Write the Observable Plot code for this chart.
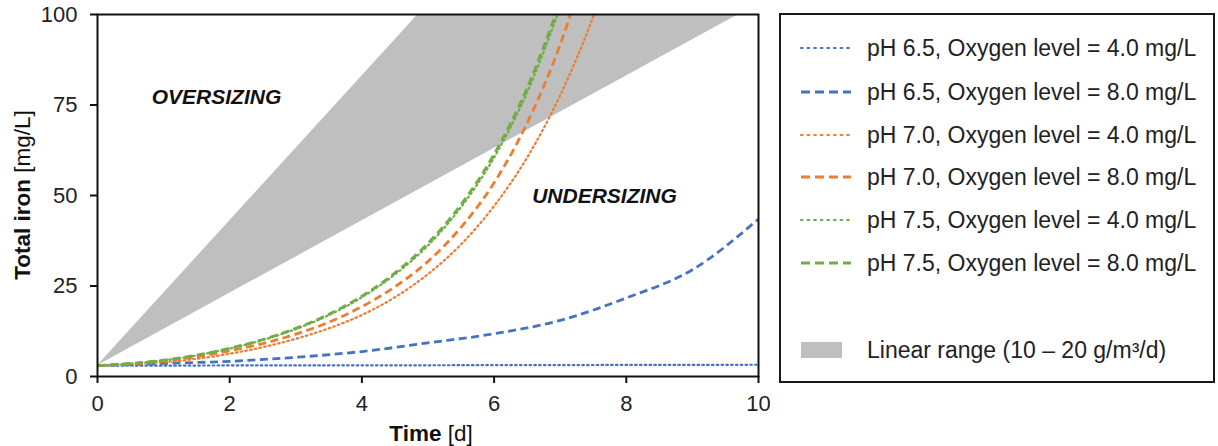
<!DOCTYPE html>
<html>
<head>
<meta charset="utf-8">
<script src="https://cdn.jsdelivr.net/npm/d3@7"></script>
<script src="https://cdn.jsdelivr.net/npm/@observablehq/plot@0.6"></script>
<style>
  html, body { margin: 0; padding: 0; background: #fff; }
  body { width: 1218px; height: 446px; position: relative; overflow: hidden; font-family: Arial, "Liberation Sans", sans-serif; }
  #chart { position: absolute; left: 0; top: 0; }
  #legend { position: absolute; left: 779px; top: 13px; width: 432px; height: 366px; border: 2px solid #1a1a1a; box-sizing: content-box; }
  .row { position: absolute; left: 0; height: 30px; display: flex; align-items: center; }
  .row svg { margin-left: 18px; }
  .row span { position: absolute; left: 86px; white-space: nowrap; font-size: 23px; color: #222; }
</style>
</head>
<body>
<div id="chart"></div>
<div id="legend"></div>
<script>
// ---- data ----
const tGrid = [0, 0.5, 1, 1.5, 2, 2.5, 3, 3.5, 4, 4.5, 5, 5.5, 6, 6.5, 7, 7.5, 8];
const pH75_O8 = [3, 3.6, 4.5, 5.9, 7.8, 10.2, 13.3, 17.2, 22.2, 28.6, 36.8, 47.5, 61.4, 79.7, 103.5, null, null];
const pH75_O4 = [3, 3.58, 4.45, 5.83, 7.7, 10.05, 13.1, 16.95, 21.9, 28.2, 36.2, 46.8, 60.5, 78.5, 102, null, null];
const pH70_O8 = [3, 3.52, 4.3, 5.46, 7.1, 9.1, 11.7, 15.0, 19.3, 24.8, 31.8, 41.2, 53.5, 70.0, 91.7, 120, null];
const pH70_O4 = [3, 3.35, 3.95, 4.9, 6.3, 8.1, 10.4, 13.3, 17.0, 21.9, 28.3, 36.5, 47.1, 60.5, 77.7, 99.5, 128];
const tBlue = [0, 1, 2, 3, 4, 5, 6, 7, 8, 9, 10];
const pH65_O8 = [3, 3.6, 4.2, 5.3, 6.9, 9.3, 11.8, 15.5, 21.7, 29.5, 43.5];
const pH65_O4 = [3, 3.0, 3.05, 3.05, 3.1, 3.1, 3.15, 3.15, 3.2, 3.2, 3.25];
const bandT = [0, 10];
const bandLow = [3, 103];
const bandHigh = [3, 203];
const xTicks = [0, 2, 4, 6, 8, 10];
const yTicks = [0, 25, 50, 75, 100];
const regionLabels = ["OVERSIZING", "UNDERSIZING"];
const regionT = [1.8, 7.67];
const regionY = [77, 49.7];

const seriesNames = [
  "pH 6.5, Oxygen level = 4.0 mg/L",
  "pH 6.5, Oxygen level = 8.0 mg/L",
  "pH 7.0, Oxygen level = 4.0 mg/L",
  "pH 7.0, Oxygen level = 8.0 mg/L",
  "pH 7.5, Oxygen level = 4.0 mg/L",
  "pH 7.5, Oxygen level = 8.0 mg/L"
];
const bandName = "Linear range (10 \u2013 20 g/m\u00b3/d)";

const BLUE = "#4472C4", ORANGE = "#ED7D31", GREEN = "#70AD47", GREY = "#BFBFBF";
const DOT = "1.6,3.2", DASH = "8,4.5";

const seriesDefs = [
  {name: seriesNames[0], t: tBlue, y: pH65_O4, color: BLUE, dash: DOT, w: 2.2},
  {name: seriesNames[1], t: tBlue, y: pH65_O8, color: BLUE, dash: DASH, w: 2.8},
  {name: seriesNames[2], t: tGrid, y: pH70_O4, color: ORANGE, dash: DOT, w: 2.2},
  {name: seriesNames[3], t: tGrid, y: pH70_O8, color: ORANGE, dash: DASH, w: 2.8},
  {name: seriesNames[4], t: tGrid, y: pH75_O4, color: GREEN, dash: DOT, w: 2.2},
  {name: seriesNames[5], t: tGrid, y: pH75_O8, color: GREEN, dash: DASH, w: 2.8}
];

function rows(def) {
  return def.t.map((t, i) => ({t, v: def.y[i]})).filter(d => d.v != null);
}
const band = bandT.map((t, i) => ({t, lo: bandLow[i], hi: bandHigh[i]}));
const labels = regionLabels.map((s, i) => ({s, t: regionT[i], v: regionY[i]}));

const plot = Plot.plot({
  width: 770,
  height: 446,
  marginLeft: 97,
  marginRight: 12,
  marginTop: 14,
  marginBottom: 70,
  style: {fontFamily: "Arial, 'Liberation Sans', sans-serif", fontSize: "22px", color: "#222", background: "transparent"},
  x: {domain: [0, 10], ticks: xTicks, label: null},
  y: {domain: [0, 100], ticks: yTicks, label: null},
  marks: [
    Plot.areaY(band, {x: "t", y1: "lo", y2: "hi", fill: GREY, clip: true}),
    ...seriesDefs.map(d => Plot.line(rows(d), {
      x: "t", y: "v", stroke: d.color, strokeWidth: d.w, strokeDasharray: d.dash,
      curve: "monotone-x", clip: true, strokeLinecap: d.dash === DOT ? "round" : "butt"
    })),
    Plot.text(labels, {x: "t", y: "v", text: "s", fontSize: 21, fontWeight: "bold", fontStyle: "italic", fill: "#111"}),
    Plot.frame({stroke: "#111", strokeWidth: 2}),
    Plot.axisX({ticks: xTicks, tickSize: 7, tickPadding: 12, fontSize: 22, stroke: "#111", strokeWidth: 2, label: null, fill: "#222"}),
    Plot.axisY({ticks: yTicks, tickSize: 7, tickPadding: 13, fontSize: 22, stroke: "#111", strokeWidth: 2, label: null, fill: "#222"})
  ]
});
document.getElementById("chart").appendChild(plot);

// axis titles with mixed weights
const svg = d3.select(plot);
const xt = svg.append("text")
  .attr("x", 431).attr("y", 441)
  .attr("text-anchor", "middle")
  .attr("font-size", 22.5).attr("fill", "#111");
xt.append("tspan").attr("font-weight", "bold").text("Time");
xt.append("tspan").text(" [d]");
const yt = svg.append("text")
  .attr("transform", "translate(30,195) rotate(-90)")
  .attr("text-anchor", "middle")
  .attr("font-size", 22.5).attr("fill", "#111");
yt.append("tspan").attr("font-weight", "bold").text("Total iron");
yt.append("tspan").text(" [mg/L]");

// legend
const legend = document.getElementById("legend");
const rowY = [48, 92, 135, 177, 220, 263];
seriesDefs.forEach((d, i) => {
  const r = document.createElement("div");
  r.className = "row";
  r.style.top = (rowY[i] - 15 - 15) + "px";
  r.innerHTML = `<svg width="54" height="30"><line x1="2" x2="52" y1="15" y2="15" stroke="${d.color}" stroke-width="${d.w}" stroke-dasharray="${d.dash === DOT ? '1.6,5' : '9,5'}" stroke-linecap="${d.dash === DOT ? 'round' : 'butt'}"/></svg><span>${d.name}</span>`;
  legend.appendChild(r);
});
const br = document.createElement("div");
br.className = "row";
br.style.top = (350 - 15 - 15) + "px";
br.innerHTML = `<svg width="54" height="30"><rect x="2" y="7" width="41" height="16" fill="${GREY}"/></svg><span>${bandName}</span>`;
legend.appendChild(br);
</script>
</body>
</html>
